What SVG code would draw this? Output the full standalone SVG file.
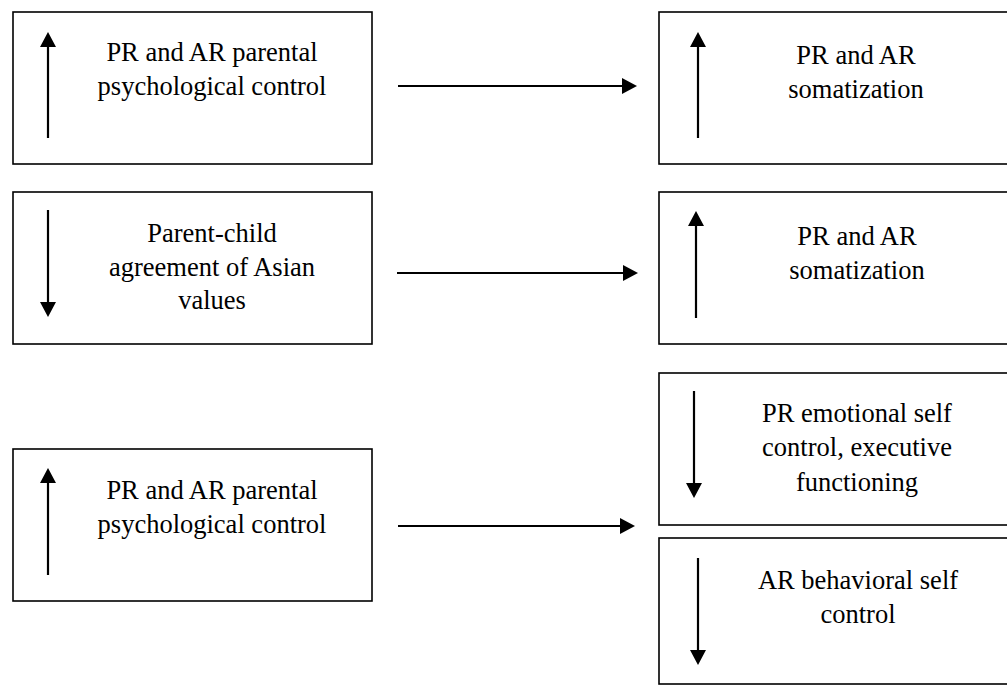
<svg xmlns="http://www.w3.org/2000/svg" width="1007" height="685" viewBox="0 0 1007 685" font-family="Liberation Serif, Times New Roman, serif">
<style>
.box{fill:#fff;stroke:#000;stroke-width:1.6}
.ar{stroke:#000;stroke-width:2.2;fill:none;marker-end:url(#h)}
text{font-size:26.5px;fill:#000;text-anchor:middle}
</style>
<defs>
<marker id="h" markerUnits="userSpaceOnUse" markerWidth="15" markerHeight="16" viewBox="0 0 15 16" refX="5" refY="8" orient="auto">
<path d="M0,0 L15,8 L0,16 z" fill="#000"/>
</marker>
</defs>
<rect width="1007" height="685" fill="#fff"/>
<g id="n1">
<rect class="box" x="13" y="12" width="359" height="152"/>
<line class="ar" x1="48" y1="138" x2="48" y2="42"/>
<text x="212" y="61">PR and AR parental</text>
<text x="212" y="95">psychological control</text>
</g>
<g id="n2">
<rect class="box" x="13" y="192" width="359" height="152"/>
<line class="ar" x1="48" y1="210" x2="48" y2="307"/>
<text x="212" y="242">Parent-child</text>
<text x="212" y="276">agreement of Asian</text>
<text x="212" y="309">values</text>
</g>
<g id="n3">
<rect class="box" x="13" y="449" width="359" height="152"/>
<line class="ar" x1="48" y1="575" x2="48" y2="478"/>
<text x="212" y="499">PR and AR parental</text>
<text x="212" y="533">psychological control</text>
</g>
<g id="n4">
<rect class="box" x="659" y="12" width="360" height="152"/>
<line class="ar" x1="698" y1="138" x2="698" y2="42"/>
<text x="856" y="64">PR and AR</text>
<text x="856" y="98">somatization</text>
</g>
<g id="n5">
<rect class="box" x="659" y="192" width="360" height="152"/>
<line class="ar" x1="696" y1="318" x2="696" y2="221"/>
<text x="857" y="245">PR and AR</text>
<text x="857" y="279">somatization</text>
</g>
<g id="n6">
<rect class="box" x="659" y="373" width="360" height="152"/>
<line class="ar" x1="694" y1="391" x2="694" y2="488"/>
<text x="857" y="422">PR emotional self</text>
<text x="857" y="456">control, executive</text>
<text x="857" y="491">functioning</text>
</g>
<g id="n7">
<rect class="box" x="659" y="538" width="360" height="146"/>
<line class="ar" x1="698" y1="558" x2="698" y2="655"/>
<text x="858" y="589">AR behavioral self</text>
<text x="858" y="623">control</text>
</g>
<g id="connectors">
<line class="ar" x1="398" y1="86" x2="627" y2="86"/>
<line class="ar" x1="397" y1="273" x2="628" y2="273"/>
<line class="ar" x1="398" y1="526" x2="625" y2="526"/>
</g>
</svg>
